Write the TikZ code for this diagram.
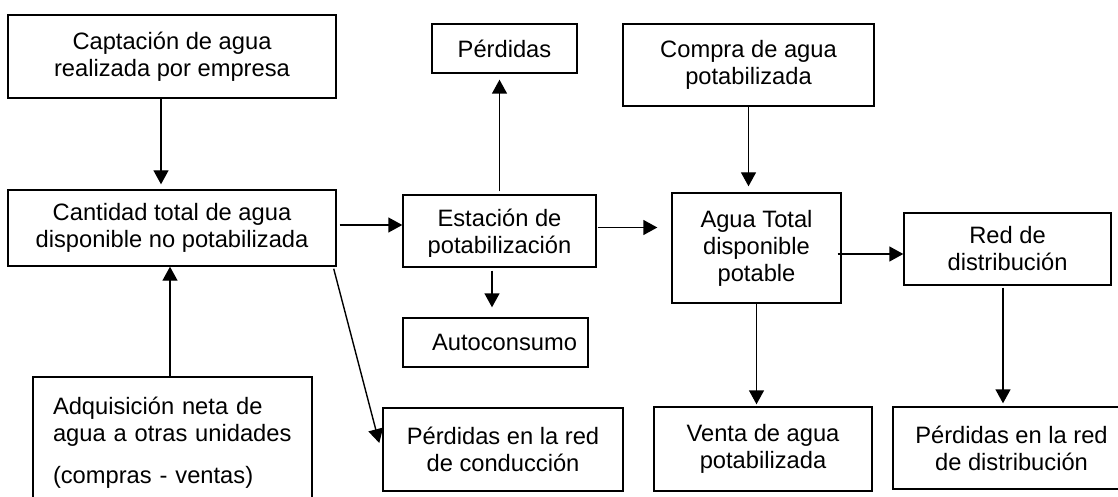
\documentclass[tikz,border=0pt]{standalone}
\usepackage{fontspec}
\setmainfont{Liberation Sans}
\usetikzlibrary{arrows.meta,calc}
\begin{document}
\begin{tikzpicture}[x=0.5pt,y=-0.5pt,
  box/.style={draw, line width=0.7pt, inner sep=0pt, align=center,
    font=\fontsize{11.85}{13.5}\selectfont},
  txt/.style={inner sep=0pt, align=center, font=\fontsize{11.85}{13.5}\selectfont},
  arr/.style={line width=0.7pt, -{Triangle[width=7.5pt,length=7pt]}}]
\useasboundingbox (0,0) rectangle (1118,497);

% boxes
\node[box, minimum width=164pt, minimum height=41.5pt] (capt) at (172,56.5)
  {Captación de agua\\realizada por empresa};
\node[box, minimum width=164pt, minimum height=38pt] (cant) at (172,228)
  {Cantidad total de agua\\disponible no potabilizada};
\node[box, minimum width=72.5pt, minimum height=24.5pt] (perd) at (504.5,48.5)
  {Pérdidas};
\node[box, minimum width=125.5pt, minimum height=41pt] (compra) at (748.5,65)
  {Compra de agua\\potabilizada};
\node[box, minimum width=96.5pt, minimum height=36pt] (est) at (499.5,231) {};
\begin{scope}
  \clip (403,190) rectangle (596,256);
  \node[txt] (estt) at (499.5,234) {Estación de\\potabilización};
\end{scope}
\node[box, minimum width=92.5pt, minimum height=24.5pt] (auto) at (495.5,342.5)
  {\hspace*{9pt}Autoconsumo};
\node[box, minimum width=84.5pt, minimum height=55pt] (agua) at (756.5,248)
  {Agua Total\\disponible\\potable};
\node[box, minimum width=103.5pt, minimum height=36pt] (red) at (1007.5,249)
  {Red de\\distribución};
\node[box, align=left, text width=119.5pt, inner xsep=10pt, minimum height=66pt] (adq) at (172.5,443)
  {Adquisición neta de\\agua a otras unidades\\[7.5pt](compras - ventas)};
\node[box, minimum width=120pt, minimum height=41.5pt] (pcond) at (503,449.5)
  {Pérdidas en la red\\de conducción};
\node[box, minimum width=109pt, minimum height=42pt] (venta) at (763,449)
  {Venta de agua\\potabilizada};
\node[box, minimum width=118.5pt, minimum height=41pt] (pdist) at (1011.5,448)
  {Pérdidas en la red\\de distribución};

% connectors
\draw[arr, shorten >=2.5pt] ([xshift=-5.5pt]capt.south) -- ([xshift=-5.5pt]capt.south |- cant.north);
\draw[arr] ([xshift=-1.25pt]adq.north) -- ([xshift=-1.25pt]adq.north |- cant.south);
\draw[arr] ([shift={(1.5pt,1.5pt)}]cant.east) coordinate (c3) -- (c3 -| est.west);
\draw[arr, shorten >=3pt] ([yshift=1.5pt]est.north) -- (est.north |- perd.south);
\draw[arr, shorten >=5pt] ([shift={(-3.75pt,-1.5pt)}]est.south) coordinate (c5) -- (c5 |- auto.north);
\draw[arr, shorten >=7pt] ([shift={(0.5pt,1.75pt)}]est.east) coordinate (c6) -- (c6 -| agua.west);
\draw[arr, shorten >=3pt] (compra.south) -- (compra.south |- agua.north);
\draw[arr] ([shift={(-2pt,-3pt)}]agua.east) coordinate (c8) -- (c8 -| red.west);
\draw[arr, shorten >=1pt] (agua.south) -- (agua.south |- venta.north);
\draw[arr, shorten >=1.5pt] ([shift={(-2.25pt,-1pt)}]red.south) coordinate (c10) -- (c10 |- pdist.north);
\draw[arr] ([shift={(-1.5pt,-1pt)}]cant.south east) -- ([shift={(-1.5pt,3.25pt)}]pcond.west);
\end{tikzpicture}
\end{document}
